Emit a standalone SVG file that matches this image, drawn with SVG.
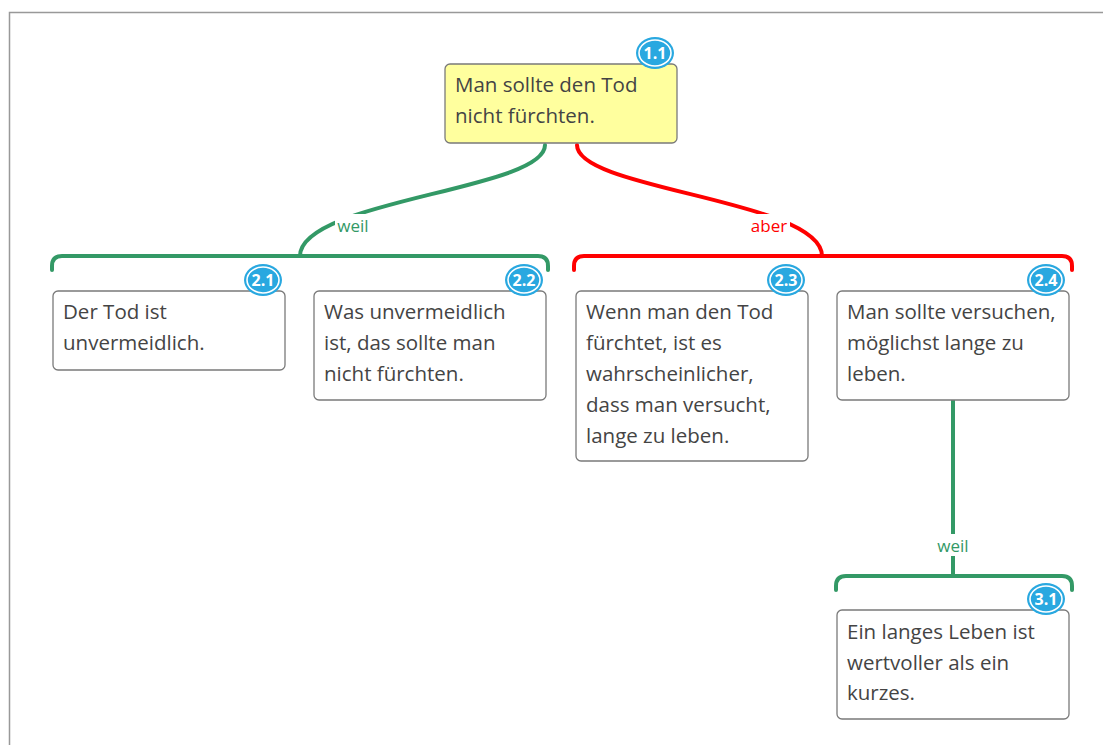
<svg xmlns="http://www.w3.org/2000/svg" width="1103" height="745" viewBox="0 0 1103 745">
<style>
.box{fill:#fff;stroke:#7a7a7a;stroke-width:1.3}
.t{font-family:"Open Sans","Noto Sans",sans-serif;font-size:20.5px;fill:#444}
.bd ellipse.o{fill:#29a8e0}
.bd ellipse.i{fill:none;stroke:#fff;stroke-width:1.6}
.bd text{font-family:"Open Sans","Noto Sans",sans-serif;font-size:16px;font-weight:bold;fill:#fff;text-anchor:middle}
.g{fill:none;stroke:#339966;stroke-width:4;stroke-linecap:round}
.r{fill:none;stroke:#ff0000;stroke-width:4;stroke-linecap:round}
.lbl{font-family:"Open Sans","Noto Sans",sans-serif;font-size:17px;text-anchor:middle}
</style>
<rect x="0" y="0" width="1103" height="745" fill="#fff"/>
<path d="M9.5 745 V12.5 H1103" fill="none" stroke="#999" stroke-width="1.5"/>
<g id="connectors">
<path class="g" d="M545 145 C545 190 300 200 300 256"/>
<path class="r" d="M577 145 C577 190 822 200 822 256"/>
<path class="g" d="M52 270 V266 Q52 256 62 256 H538 Q548 256 548 266 V270"/>
<path class="r" d="M574 270 V266 Q574 256 584 256 H1062 Q1072 256 1072 266 V270"/>
<path class="g" d="M953 400 V576"/>
<path class="g" d="M836 590 V586 Q836 576 846 576 H1062 Q1072 576 1072 586 V590"/>
<rect x="335" y="214" width="37" height="22" fill="#fff"/>
<text class="lbl" x="353" y="232" fill="#339966">weil</text>
<rect x="749" y="214" width="41" height="22" fill="#fff"/>
<text class="lbl" x="769" y="232" fill="#ff0000">aber</text>
<rect x="935" y="534" width="37" height="22" fill="#fff"/>
<text class="lbl" x="953" y="552" fill="#339966">weil</text>
</g>
<g id="n11">
<rect x="445" y="64" width="232" height="79" rx="5" fill="#ffff9e" stroke="#7a7a7a" stroke-width="1.3"/>
<text class="t" x="455" y="92">Man sollte den Tod</text>
<text class="t" x="455" y="123">nicht fürchten.</text>
<g class="bd"><ellipse class="o" cx="655" cy="53" rx="19" ry="16"/><ellipse class="i" cx="655" cy="53" rx="16" ry="13"/><text x="655" y="59">1.1</text></g>
</g>
<g id="n21">
<rect class="box" x="53" y="291" width="232" height="79" rx="5"/>
<text class="t" x="63" y="319">Der Tod ist</text>
<text class="t" x="63" y="350">unvermeidlich.</text>
<g class="bd"><ellipse class="o" cx="263" cy="280" rx="19" ry="16"/><ellipse class="i" cx="263" cy="280" rx="16" ry="13"/><text x="263" y="286">2.1</text></g>
</g>
<g id="n22">
<rect class="box" x="314" y="291" width="232" height="109" rx="5"/>
<text class="t" x="324" y="319">Was unvermeidlich</text>
<text class="t" x="324" y="350">ist, das sollte man</text>
<text class="t" x="324" y="381">nicht fürchten.</text>
<g class="bd"><ellipse class="o" cx="524" cy="280" rx="19" ry="16"/><ellipse class="i" cx="524" cy="280" rx="16" ry="13"/><text x="524" y="286">2.2</text></g>
</g>
<g id="n23">
<rect class="box" x="576" y="291" width="232" height="170" rx="5"/>
<text class="t" x="586" y="319">Wenn man den Tod</text>
<text class="t" x="586" y="350">fürchtet, ist es</text>
<text class="t" x="586" y="381">wahrscheinlicher,</text>
<text class="t" x="586" y="412">dass man versucht,</text>
<text class="t" x="586" y="443">lange zu leben.</text>
<g class="bd"><ellipse class="o" cx="786" cy="280" rx="19" ry="16"/><ellipse class="i" cx="786" cy="280" rx="16" ry="13"/><text x="786" y="286">2.3</text></g>
</g>
<g id="n24">
<rect class="box" x="837" y="291" width="232" height="109" rx="5"/>
<text class="t" x="847" y="319">Man sollte versuchen,</text>
<text class="t" x="847" y="350">möglichst lange zu</text>
<text class="t" x="847" y="381">leben.</text>
<g class="bd"><ellipse class="o" cx="1046" cy="280" rx="19" ry="16"/><ellipse class="i" cx="1046" cy="280" rx="16" ry="13"/><text x="1046" y="286">2.4</text></g>
</g>
<g id="n31">
<rect class="box" x="837" y="610" width="232" height="109" rx="5"/>
<text class="t" x="847" y="639">Ein langes Leben ist</text>
<text class="t" x="847" y="670">wertvoller als ein</text>
<text class="t" x="847" y="700">kurzes.</text>
<g class="bd"><ellipse class="o" cx="1046" cy="599" rx="19" ry="16"/><ellipse class="i" cx="1046" cy="599" rx="16" ry="13"/><text x="1046" y="605">3.1</text></g>
</g>
</svg>
